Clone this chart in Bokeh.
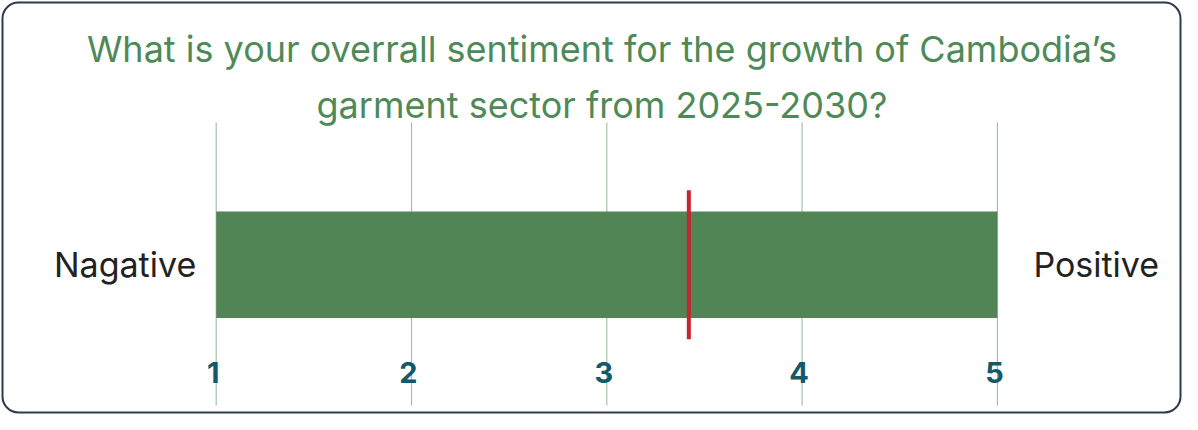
from bokeh.plotting import figure
from bokeh.models import Range1d, BoxAnnotation, ColumnDataSource
from bokeh.core.properties import value
from bokeh.embed import file_html
from bokeh.resources import INLINE

# ---- data ----
title_lines = ["What is your overrall sentiment for the growth of Cambodia\u2019s",
               "garment sector from 2025-2030?"]
scale_ticks = [1, 2, 3, 4, 5]
tick_labels = ["1", "2", "3", "4", "5"]
scale_min = 1
scale_max = 5
mean_sentiment = 3.42
end_labels = ["Nagative", "Positive"]

# ---- layout ----
W, H = 1182, 414
X0, X1 = -0.10445, 5.94777
Y0, Y1 = -1.4056, 2.4817
FONT = "Inter"

p = figure(width=W, height=H, output_backend="svg", toolbar_location=None,
           x_range=Range1d(X0, X1), y_range=Range1d(Y0, Y1),
           min_border=0, outline_line_color=None)
p.xaxis.visible = False
p.yaxis.visible = False
p.grid.visible = False
p.background_fill_color = "white"
p.border_fill_color = "white"

px_x = (X1 - X0) / W
px_y = (Y1 - Y0) / H

# rounded border
p.add_layout(BoxAnnotation(left=X0 + 2 * px_x, right=X1 - 2 * px_x,
                           bottom=Y0 + 2 * px_y, top=Y1 - 2 * px_y,
                           fill_alpha=0, line_color="#2f3a48", line_alpha=1.0,
                           line_width=2, border_radius=16))

# vertical grid lines
p.segment(x0=scale_ticks, x1=scale_ticks, y0=[-1.321] * len(scale_ticks),
          y1=[1.336] * len(scale_ticks), line_color="#a3c2a5", line_width=1.2)

# bar spanning scale
p.hbar(y=[0], left=[scale_min], right=[scale_max], height=1.0,
       fill_color="#528556", line_color=None)

# mean marker
p.segment(x0=[mean_sentiment], x1=[mean_sentiment], y0=[-0.70], y1=[0.70],
          line_color="#c8232f", line_width=4)

# tick labels
src = ColumnDataSource(dict(x=scale_ticks, y=[-1.011] * len(scale_ticks), t=tick_labels))
p.text(x="x", y="y", text="t", source=src, text_align="center",
       text_baseline="middle", text_font=value(FONT), text_font_style="bold",
       text_font_size="29px", text_color="#13596b", x_offset=-3)

# end labels
p.text(x=[scale_min, scale_max], y=[0, 0], text=end_labels,
       text_align=["right", "left"], text_baseline="middle",
       x_offset=[-20, 36], text_font=value(FONT), text_font_size="34px",
       text_color="#222222")

# title
p.text(x=[2.975, 2.975], y=[2.022, 1.505], text=title_lines,
       text_align="center", text_baseline="alphabetic",
       text_font=value(FONT), text_font_size="36px", text_color="#4e8a58")

open("out.html", "w").write(file_html(p, INLINE))
